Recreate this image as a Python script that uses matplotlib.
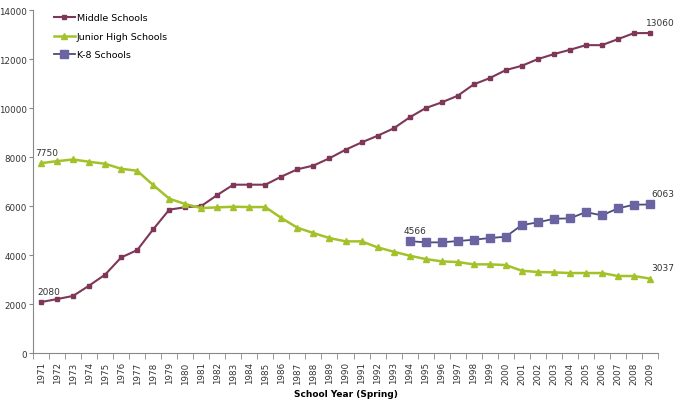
import numpy as np
import matplotlib.pyplot as plt

years = np.arange(1971, 2010)

middle = [2080, 2200, 2330, 2750, 3200, 3900, 4200, 5050, 5850, 5950,
          6000, 6450, 6870, 6870, 6870, 7200, 7500, 7650, 7950, 8295,
          8594, 8867, 9167, 9616, 9996, 10229, 10500, 10963, 11220, 11547,
          11723, 11995, 12199, 12375, 12566, 12566, 12811, 13056, 13060]

junior = [7750, 7830, 7900, 7805, 7724, 7520, 7438, 6854, 6300, 6079,
          5916, 5944, 5970, 5957, 5957, 5508, 5113, 4896, 4692, 4557,
          4557, 4312, 4135, 3972, 3835, 3740, 3713, 3618, 3618, 3590,
          3359, 3305, 3291, 3264, 3264, 3264, 3142, 3142, 3037]

k8_years = np.arange(1994, 2010)
k8 = [4566, 4516, 4516, 4570, 4624, 4692, 4747, 5222, 5331, 5480,
      5494, 5753, 5617, 5903, 6052, 6063]

fig = plt.figure(figsize=(6.81, 4.02), dpi=100)
ax = fig.add_axes([0.0485, 0.1194, 0.9177, 0.8532])

ax.plot(years, middle, color='#7E3758', marker='s', markersize=2.5, lw=1.5,
        label='Middle Schools')
ax.plot(years, junior, color='#A3C22A', marker='^', markersize=4.5, lw=1.8,
        label='Junior High Schools')
ax.plot(k8_years, k8, color='#4E4A78', marker='s', markersize=6, lw=1.3,
        markerfacecolor='#6A64A2', markeredgecolor='#6A64A2',
        label='K-8 Schools')

txt = dict(fontsize=6.5, color='#333333')
ax.annotate('7750', (years[0], junior[0]), xytext=(-4, 6), textcoords='offset points', **txt)
ax.annotate('2080', (years[0], middle[0]), xytext=(-3, 6), textcoords='offset points', **txt)
ax.annotate('4566', (k8_years[0], k8[0]), xytext=(-4, 6), textcoords='offset points', **txt)
ax.annotate('13060', (years[-1], middle[-1]), xytext=(-3, 6), textcoords='offset points', **txt)
ax.annotate('6063', (years[-1], k8[-1]), xytext=(1, 6), textcoords='offset points', **txt)
ax.annotate('3037', (years[-1], junior[-1]), xytext=(1, 6), textcoords='offset points', **txt)

ax.set_xlim(1970.5, 2009.5)
ax.set_ylim(0, 14000)
ax.set_yticks(np.arange(0, 14001, 2000))
ax.set_xticks(years)
ax.set_xticklabels([str(y) for y in years], rotation=90, fontsize=6.3, color='#333333')
ax.set_xticks(np.arange(1970.5, 2010, 1), minor=True)
ax.tick_params(axis='x', which='major', length=0, pad=6)
ax.tick_params(axis='x', which='minor', length=4, color='#888888')
ax.tick_params(axis='y', labelsize=6.3, length=3, pad=1.5, color='#888888', labelcolor='#333333')

for s in ['top', 'right']:
    ax.spines[s].set_visible(False)
for s in ['left', 'bottom']:
    ax.spines[s].set_color('#888888')

ax.set_xlabel('School Year (Spring)', fontsize=6.5, fontweight='bold', labelpad=4)

ax.legend(loc='upper left', bbox_to_anchor=(0.02, 1.015), frameon=False, fontsize=6.8,
          handlelength=2.2, labelspacing=1.0, handletextpad=0.2)

fig.savefig('out.png', dpi=100)
